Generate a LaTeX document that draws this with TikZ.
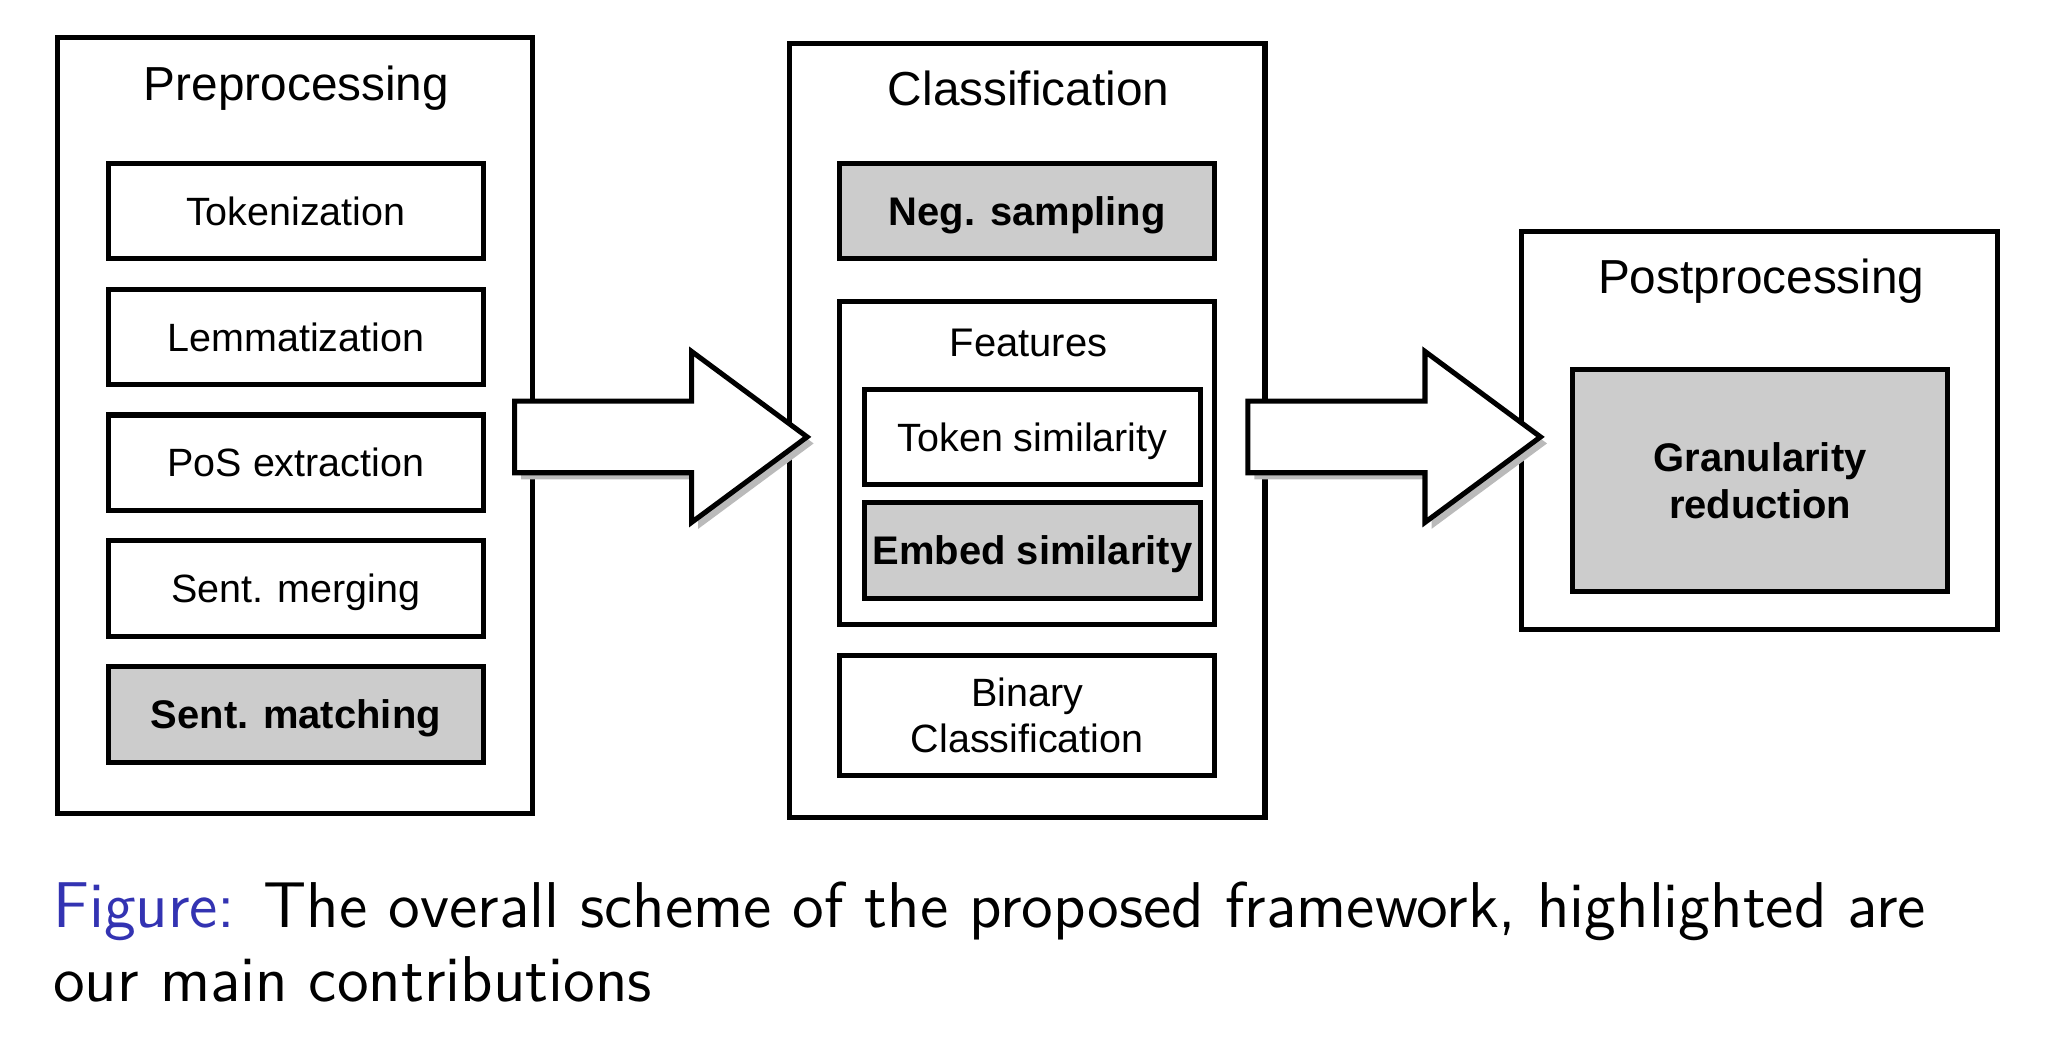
\documentclass[tikz,border=0pt]{standalone}
\usepackage{fontspec}
\usepackage{xcolor}
\usetikzlibrary{positioning,shapes.arrows,shadows}
\newfontfamily\helv{Liberation Sans}
\definecolor{figblue}{rgb}{0.2,0.2,0.7}

\begin{document}
\begin{tikzpicture}[x=1mm,y=1mm,node distance=1.95mm,
  stage/.style={draw,line width=1.1pt,minimum width=36.4mm,inner sep=0pt},
  title/.style={font=\helv\fontsize{10.4}{12}\selectfont,anchor=base,inner sep=0pt},
  box/.style={draw,line width=1.1pt,inner sep=0pt,minimum width=28.7mm,minimum height=7.3mm,font=\helv\fontsize{8.6}{10.2}\selectfont},
  sub/.style={box,text height=6.2pt,text depth=0pt},
  hl/.style={sub,fill=black!20,font=\helv\bfseries\fontsize{8.7}{10.2}\selectfont},
  bigarrow/.style={single arrow,draw,line width=1.1pt,fill=white,inner xsep=0pt,inner ysep=2.55mm,outer sep=0pt,
    minimum height=22.4mm,minimum width=12.7mm,single arrow head extend=3.8mm,
    single arrow tip angle=73,anchor=tail,
    drop shadow={shadow xshift=0.5mm,shadow yshift=-0.5mm,fill=black!27,opacity=1}},
  caption/.style={anchor=base west,inner sep=0pt,font=\sffamily\fontsize{14.1}{17}\selectfont}]
\useasboundingbox (0,0) rectangle (156.8,-80.2);

% preprocessing
\node[stage,minimum height=59.4mm] (pre) at (22.6,-32.6) {};
\node[title] (pret) at (22.7,-7.7) {Preprocessing};
\node[sub] (tok) at (22.65,-16.15) {Tokenization};
\node[sub,below=of tok] (lem) {Lemmatization};
\node[sub,below=of lem] (pos) {PoS extraction};
\node[sub,below=of pos] (mrg) {Sent. merging};
\node[hl,below=of mrg] (mat) {Sent. matching};

% classification
\node[stage,minimum height=59.3mm] (cls) at (78.65,-32.95) {};
\node[title] (clst) at (78.75,-8.1) {Classification};
\node[hl] (neg) at (78.65,-16.15) {Neg. sampling};
\node[box,minimum height=24.7mm,below=2.9mm of neg] (feat) {};
\node[title,font=\helv\fontsize{8.7}{10}\selectfont] (featt) at (78.75,-27.3) {Features};
\node[sub,minimum width=25.7mm] (tsim) at (79.05,-33.45) {Token similarity};
\node[hl,minimum width=25.7mm,below=1.0mm of tsim] (esim) {Embed similarity};
\node[box,minimum height=9.2mm,align=center,below=2.0mm of feat] (bin) {Binary\\Classification};

% postprocessing
\node[stage,minimum height=30.5mm] (post) at (134.7,-32.95) {};
\node[title] (postt) at (134.85,-22.5) {Postprocessing};
\node[box,fill=black!20,minimum height=17mm,align=center,
  font=\helv\bfseries\fontsize{8.7}{10.2}\selectfont] (gran) at (134.75,-36.8) {Granularity\\reduction};

% arrows between the stages
\node[bigarrow] (a1) at ([xshift=-1.6mm,yshift=-0.85mm]pre.east) {};
\node[bigarrow] (a2) at ([xshift=-1.5mm,yshift=-0.5mm]cls.east) {};

% caption
\node[caption] (cap1) at (4.0,-71.0) {\textcolor{figblue}{Figure:} The overall scheme of the proposed framework, highlighted are};
\node[caption] (cap2) at (4.0,-76.7) {our main contributions};
\end{tikzpicture}
\end{document}
